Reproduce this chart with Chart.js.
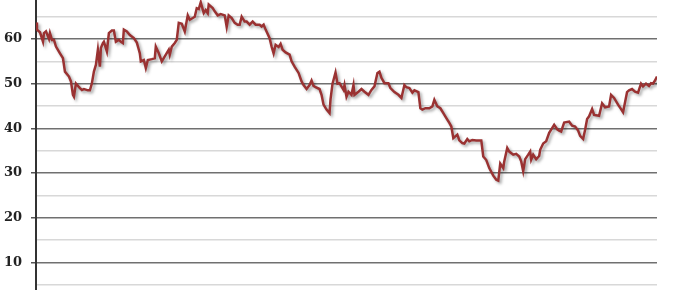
<!DOCTYPE html>
<html>
<head>
<meta charset="utf-8">
<script src="https://cdn.jsdelivr.net/npm/chart.js@4"></script>
<style>
  body { margin: 0; background: #fff; }
  #wrap { position: relative; width: 680px; height: 290px; overflow: hidden; }
  #chart { position: absolute; left: 0; top: -48px; }
</style>
</head>
<body>
<div id="wrap">
  <canvas id="chart" width="680" height="375"></canvas>
</div>
<script>
// x = week index
const weeks = [0, 1, 4, 7, 8, 10, 13, 14, 16, 18, 20, 24, 27, 29, 33, 35, 37, 38, 40, 44,
  46, 48, 52, 54, 56, 58, 60, 62, 64, 65, 67, 68, 71, 73, 76, 78, 80, 83, 85, 87,
  88, 91, 94, 98, 101, 103, 104, 105, 108, 110, 112, 116, 119, 120, 123, 126, 129, 133, 134, 136,
  139, 141, 143, 146, 149, 152, 154, 157, 159, 161, 163, 165, 168, 170, 172, 173, 177, 179, 182, 185,
  189, 191, 193, 196, 199, 202, 204, 206, 209, 211, 214, 217, 220, 224, 226, 228, 230, 234, 236, 238,
  240, 243, 245, 247, 250, 254, 256, 259, 263, 266, 268, 271, 274, 276, 278, 280, 284, 286, 288, 291,
  294, 295, 297, 300, 302, 304, 308, 309, 311, 313, 316, 318, 319, 323, 326, 329, 333, 336, 339, 342,
  344, 346, 349, 353, 355, 359, 363, 366, 369, 371, 374, 377, 379, 383, 385, 387, 390, 394, 397, 399,
  402, 405, 408, 411, 414, 416, 418, 420, 422, 424, 427, 429, 432, 434, 437, 441, 446, 448, 451, 454,
  458, 461, 463, 465, 468, 469, 472, 474, 478, 481, 484, 486, 488, 490, 493, 495, 496, 498, 501, 504,
  505, 508, 511, 514, 516, 519, 522, 524, 526, 529, 534, 537, 540, 543, 545, 548, 550, 552, 554, 557,
  559, 564, 567, 570, 574, 576, 579, 583, 586, 588, 592, 594, 597, 600, 603, 606, 608, 611, 614, 616,
  618, 620, 622];

const values = [63.7, 62.1, 61.5, 59.4, 61.3, 61.7, 60.0, 61.3, 59.8, 59.8, 58.3, 56.8, 55.7, 52.7, 51.6, 50.5, 47.5, 47.1, 50.0, 49.0,
  48.6, 48.8, 48.5, 48.5, 50.1, 52.7, 54.2, 57.6, 53.8, 58.0, 59.1, 59.4, 57.2, 61.3, 61.9, 61.9, 59.4, 59.8, 59.4, 59.1,
  62.1, 61.7, 60.9, 60.2, 59.2, 57.6, 56.8, 55.0, 55.3, 53.5, 55.3, 55.5, 55.7, 58.3, 56.8, 55.0, 56.1, 57.6, 56.5, 58.3,
  59.1, 59.8, 63.6, 63.4, 61.7, 65.3, 64.3, 64.7, 65.0, 66.9, 66.7, 68.2, 65.8, 66.5, 65.8, 67.7, 66.9, 66.2, 65.3, 65.6,
  65.3, 62.7, 65.3, 64.7, 63.6, 63.2, 63.2, 65.0, 63.9, 63.9, 63.2, 63.9, 63.2, 63.2, 62.8, 63.2, 62.1, 60.2, 58.3, 56.8,
  58.7, 58.2, 58.9, 57.6, 57.0, 56.5, 55.0, 53.8, 52.4, 50.5, 49.7, 48.8, 49.7, 50.7, 49.5, 49.2, 48.8, 47.5, 45.3, 44.2,
  43.4, 46.5, 50.0, 52.5, 50.0, 50.1, 48.6, 49.7, 47.1, 48.2, 47.5, 49.7, 47.5, 48.2, 48.8, 48.2, 47.5, 48.6, 49.4, 52.4,
  52.7, 51.3, 50.1, 50.1, 49.0, 48.1, 47.5, 46.8, 49.7, 49.2, 49.0, 48.0, 48.5, 48.1, 44.5, 44.2, 44.5, 44.5, 44.9, 46.4,
  44.9, 44.5, 43.4, 42.3, 41.2, 40.4, 37.8, 38.2, 38.6, 37.3, 36.7, 36.6, 37.6, 37.1, 37.4, 37.3, 37.3, 33.7, 32.9, 31.1,
  29.4, 28.5, 28.3, 32.1, 31.1, 32.6, 35.6, 34.8, 34.1, 34.3, 33.7, 32.6, 30.4, 33.1, 34.1, 34.8, 33.0, 34.1, 33.1, 33.8,
  35.2, 36.6, 37.1, 39.0, 39.7, 40.8, 39.8, 39.5, 39.3, 41.3, 41.5, 40.6, 40.4, 39.5, 38.3, 37.6, 39.7, 42.1, 42.7, 44.3,
  43.0, 42.8, 45.6, 44.7, 44.9, 47.5, 46.8, 45.3, 44.3, 43.6, 48.1, 48.5, 48.8, 48.2, 48.0, 50.0, 49.4, 50.0, 49.5, 50.1,
  50.0, 50.7, 51.6];

const yMin = 0;
const yMax = 75;
const yStep = 5;

const points = weeks.map((w, i) => ({ x: w, y: values[i] }));

// grey drop shadow under the line
const lineShadow = {
  id: "lineShadow",
  beforeDatasetsDraw(chart) {
    const c = chart.ctx;
    c.save();
    c.shadowColor = "rgba(0,0,0,0.35)";
    c.shadowBlur = 3;
    c.shadowOffsetX = 2;
    c.shadowOffsetY = 2;
  },
  afterDatasetsDraw(chart) {
    chart.ctx.restore();
  },
};

const ctx = document.getElementById("chart").getContext("2d");
const myChart = new Chart(ctx, {
  type: "line",
  data: {
    datasets: [
      {
        data: points,
        borderColor: "#9a3232",
        borderWidth: 2.5,
        pointRadius: 0,
        tension: 0,
        fill: false,
      },
    ],
  },
  options: {
    responsive: false,
    animation: false,
    layout: { padding: { top: 20, bottom: 20, left: 0, right: 23 } },
    plugins: { legend: { display: false }, tooltip: { enabled: false } },
    scales: {
      x: {
        type: "linear",
        min: weeks[0],
        max: weeks[weeks.length - 1],
        display: false,
      },
      y: {
        min: yMin,
        max: yMax,
        afterFit(scale) {
          scale.width = 36;
        },
        border: { display: true, color: "#333", width: 2 },
        grid: {
          color: (c) => (c.tick && c.tick.value % 10 === 0 ? "#707070" : "#d8d8d8"),
          tickColor: (c) => (c.tick && c.tick.value % 10 === 0 ? "#555" : "rgba(0,0,0,0)"),
          lineWidth: 1.5,
          tickLength: 5,
        },
        ticks: {
          stepSize: yStep,
          padding: 9,
          color: "#222",
          font: { family: "DejaVu Serif", weight: "bold", size: 13 },
          callback: (v) => (v % 10 === 0 ? v : ""),
        },
      },
    },
  },
  plugins: [lineShadow],
});
</script>
</body>
</html>
